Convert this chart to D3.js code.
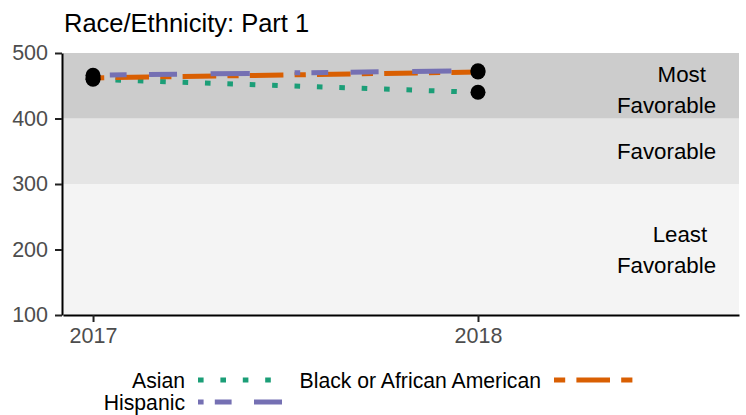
<!DOCTYPE html>
<html>
<head>
<meta charset="utf-8">
<script src="https://cdn.jsdelivr.net/npm/d3@7"></script>
<style>
  body { margin: 0; background: #fff; }
  text { font-family: "Liberation Sans", Arial, Helvetica, sans-serif; }
</style>
</head>
<body>
<svg width="746" height="415"></svg>
<script>
// data
var years = [2017, 2018];
var seriesNames = ["Asian", "Black or African American", "Hispanic"];
var asian = [460, 440];
var black = [462, 471];
var hispanic = [466, 473];
var yTicks = [100, 200, 300, 400, 500];
var bandBreaks = [100, 300, 400, 500];
var bandLabels = [["Least", "Favorable"], ["Favorable"], ["Most", "Favorable"]];
var bandLabelY = [200, 350, 445];

var colors = ["#1b9e77", "#d95f02", "#7570b3"];
var u = 5.6; // dash unit
var dashes = [
    [1, 3],
    [2, 2, 6, 2],
    [1, 2, 3, 4, 5, 6, 7, 8]
].map(function(p){ return p.map(function(v){ return v * u; }).join(" "); });

var margin = {top: 53, right: 7, bottom: 100, left: 63};

var svg = d3.select("svg"),
    width = +svg.attr("width"),
    height = +svg.attr("height");

var x = d3.scaleLinear()
    .domain([2016.922, 2018.678])
    .range([margin.left, width - margin.right]);

var y = d3.scaleLinear()
    .domain([100, 500])
    .range([height - margin.bottom, margin.top]);

// background bands
var bandFill = ["#f4f4f4", "#e5e5e5", "#cccccc"];
svg.append("g").selectAll("rect")
    .data(d3.range(bandBreaks.length - 1))
    .enter().append("rect")
    .attr("x", x.range()[0])
    .attr("width", x.range()[1] - x.range()[0])
    .attr("y", function(i){ return y(bandBreaks[i + 1]); })
    .attr("height", function(i){ return y(bandBreaks[i]) - y(bandBreaks[i + 1]); })
    .attr("fill", function(i){ return bandFill[i]; });

// band labels, hjust 0.8 around anchor
var labelX = x(2018.567);
bandLabels.forEach(function(lines, i){
    var cy = y(bandLabelY[i]);
    var n = lines.length;
    lines.forEach(function(s, j){
        var t = svg.append("text")
            .attr("font-size", "22.3px")
            .attr("fill", "#000")
            .attr("y", cy + (j - (n - 1) / 2) * 31 + 8)
            .text(s);
        var w = t.node().getComputedTextLength();
        t.attr("x", labelX - 0.8 * w);
    });
});

// lines
var allSeries = [asian, black, hispanic];
var line = d3.line()
    .x(function(d, i){ return x(years[i]); })
    .y(function(d){ return y(d); });

svg.append("g").selectAll("path")
    .data(allSeries)
    .enter().append("path")
    .attr("d", line)
    .attr("fill", "none")
    .attr("stroke", function(d, i){ return colors[i]; })
    .attr("stroke-width", 5)
    .attr("stroke-dasharray", function(d, i){ return dashes[i]; })
    .attr("stroke-linecap", "butt");

// points
var pts = [];
allSeries.forEach(function(s){
    s.forEach(function(v, i){ pts.push({year: years[i], value: v}); });
});
svg.append("g").selectAll("circle")
    .data(pts)
    .enter().append("circle")
    .attr("cx", function(d){ return x(d.year); })
    .attr("cy", function(d){ return y(d.value); })
    .attr("r", 7.5)
    .attr("fill", "#000");

// axes
var yAxis = svg.append("g")
    .attr("transform", "translate(" + (margin.left - 1) + ",0)")
    .call(d3.axisLeft(y).tickValues(yTicks).tickSize(7).tickSizeOuter(0).tickPadding(7));

var xAxis = svg.append("g")
    .attr("transform", "translate(0," + y(100) + ")")
    .call(d3.axisBottom(x).tickValues(years).tickFormat(d3.format("d"))
        .tickSize(7).tickSizeOuter(0).tickPadding(6));

[yAxis, xAxis].forEach(function(a){
    a.select(".domain").attr("stroke", "#000").attr("stroke-width", 2);
    a.selectAll(".tick line").attr("stroke", "#222").attr("stroke-width", 2);
    a.selectAll(".tick text")
        .attr("font-size", "21.5px")
        .attr("fill", "#4d4d4d")
        .attr("font-family", "Liberation Sans, Arial, sans-serif");
});

// title
svg.append("text")
    .attr("x", margin.left + 1)
    .attr("y", 32)
    .attr("font-size", "25.5px")
    .attr("fill", "#000")
    .text("Race/Ethnicity: Part 1");

// legend
var legendPos = [
    {tx: 185, ky: 380},
    {tx: 541, ky: 380},
    {tx: 185, ky: 402}
];
var keyLen = 85;
var legend = svg.append("g").selectAll("g")
    .data(seriesNames)
    .enter().append("g");

legend.append("text")
    .attr("x", function(d, i){ return legendPos[i].tx; })
    .attr("y", function(d, i){ return legendPos[i].ky + 7.5; })
    .attr("text-anchor", "end")
    .attr("font-size", "21.2px")
    .attr("fill", "#000")
    .text(function(d){ return d; });

legend.append("line")
    .attr("x1", function(d, i){ return legendPos[i].tx + 13; })
    .attr("x2", function(d, i){ return legendPos[i].tx + 13 + keyLen; })
    .attr("y1", function(d, i){ return legendPos[i].ky; })
    .attr("y2", function(d, i){ return legendPos[i].ky; })
    .attr("stroke", function(d, i){ return colors[i]; })
    .attr("stroke-width", 5)
    .attr("stroke-dasharray", function(d, i){ return dashes[i]; });
</script>
</body>
</html>
